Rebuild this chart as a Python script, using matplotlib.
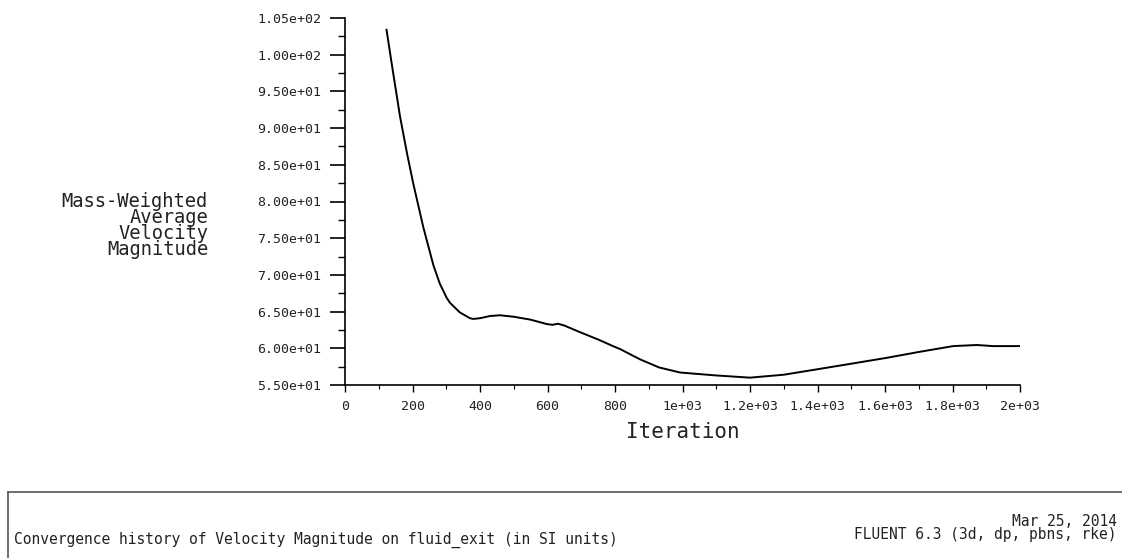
import matplotlib
matplotlib.use("Agg")
import matplotlib.pyplot as plt
from matplotlib.ticker import FixedLocator, MultipleLocator

# convergence history
iteracion = [123, 140, 163, 184, 202, 232, 262, 281, 301, 311, 340, 370, 380,
             400, 430, 459, 500, 550, 598, 615, 631, 650, 696, 750, 794, 815,
             874, 930, 993, 1100, 1200, 1300, 1407, 1500, 1605, 1700, 1802,
             1872, 1920, 2000]
velocidad = [103.4, 98.3, 91.6, 86.5, 82.5, 76.5, 71.3, 68.8, 66.9, 66.2, 64.9,
             64.1, 64.0, 64.1, 64.4, 64.5, 64.3, 63.9, 63.3, 63.2, 63.35, 63.1,
             62.2, 61.2, 60.3, 59.9, 58.5, 57.4, 56.7, 56.3, 56.0, 56.4, 57.2,
             57.9, 58.7, 59.5, 60.3, 60.45, 60.3, 60.3]

x_ticks = [0, 200, 400, 600, 800, 1000, 1200, 1400, 1600, 1800, 2000]
x_labels = ["0", "200", "400", "600", "800", "1e+03", "1.2e+03", "1.4e+03",
            "1.6e+03", "1.8e+03", "2e+03"]
y_ticks = [55, 60, 65, 70, 75, 80, 85, 90, 95, 100, 105]

fuente = "DejaVu Sans Mono"
plt.rcParams['font.family'] = fuente
color_txt = "#222222"

W, H = 1122, 558
fig = plt.figure(figsize=(W / 100, H / 100), dpi=100)
ax = fig.add_axes([345 / W, 1 - 385 / H, (1020 - 345) / W, (385 - 18) / H])

ax.plot(iteracion, velocidad, color="black", linewidth=1.4)
ax.set_xlim(0, 2000)
ax.set_ylim(55, 105)

for lado in ["top", "right"]:
    ax.spines[lado].set_visible(False)
for lado in ["left", "bottom"]:
    ax.spines[lado].set_color("black")
    ax.spines[lado].set_linewidth(1.2)

ax.xaxis.set_major_locator(FixedLocator(x_ticks))
ax.set_xticklabels(x_labels)
ax.xaxis.set_minor_locator(MultipleLocator(100))
ax.yaxis.set_major_locator(FixedLocator(y_ticks))
ax.set_yticklabels(["%.2e" % v for v in y_ticks])
ax.yaxis.set_minor_locator(MultipleLocator(2.5))

ax.tick_params(axis="y", which="major", length=11, width=1.2, pad=6,
               labelsize=9.5, labelcolor=color_txt)
ax.tick_params(axis="y", which="minor", length=5, width=1.0)
ax.tick_params(axis="x", which="major", length=5, width=1.0, pad=6,
               labelsize=9.5, labelcolor=color_txt)
ax.tick_params(axis="x", which="minor", length=3, width=0.8)

ax.set_xlabel("Iteration", fontsize=15, color=color_txt, labelpad=6)

fig.text(208 / W, 1 - 226 / H, "Mass-Weighted\nAverage\nVelocity\nMagnitude",
         ha="right", va="center", fontsize=13.5, color=color_txt,
         linespacing=0.8)

# recuadro inferior
fig.add_artist(plt.Line2D([8 / W, 1], [1 - 492 / H, 1 - 492 / H],
                          color="#555555", linewidth=1.2))
fig.add_artist(plt.Line2D([8 / W, 8 / W], [0, 1 - 492 / H],
                          color="#555555", linewidth=1.2))

fig.text(14 / W, 1 - 540 / H,
         "Convergence history of Velocity Magnitude on fluid_exit (in SI units)",
         ha="left", va="center", fontsize=10.5, color=color_txt)
fig.text(1117 / W, 1 - 528 / H, "Mar 25, 2014\nFLUENT 6.3 (3d, dp, pbns, rke)",
         ha="right", va="center", fontsize=10.5, color=color_txt,
         multialignment="right", linespacing=0.9)

fig.savefig("out.png", dpi=100)
